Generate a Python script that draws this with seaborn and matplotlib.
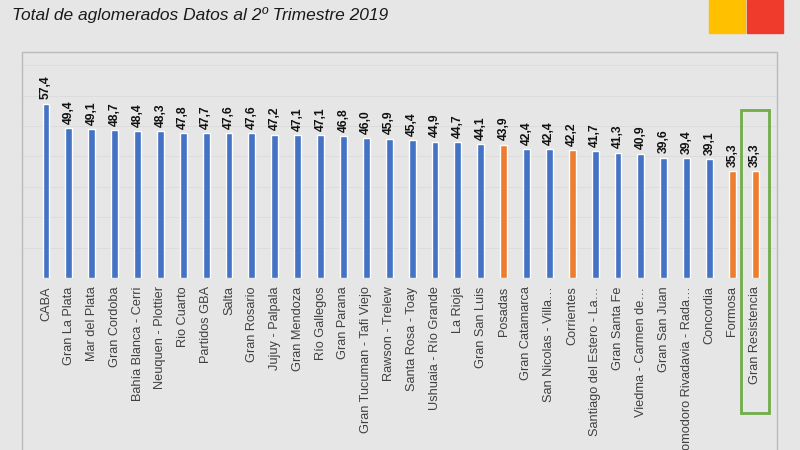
import matplotlib
matplotlib.use('Agg')
import matplotlib.pyplot as plt
from matplotlib.patches import Rectangle
import pandas as pd
import seaborn as sns

# Datos: tasa por aglomerado, 2do trimestre 2019
aglomerados = ['CABA', 'Gran La Plata', 'Mar del Plata', 'Gran Cordoba',
               'Bahía Blanca - Cerri', 'Neuquen - Plottier', 'Rio Cuarto',
               'Partidos GBA', 'Salta', 'Gran Rosario', 'Jujuy - Palpala',
               'Gran Mendoza', 'Río Gallegos', 'Gran Parana',
               'Gran Tucuman - Tafi Viejo', 'Rawson - Trelew',
               'Santa Rosa - Toay', 'Ushuaia - Río Grande', 'La Rioja',
               'Gran San Luis', 'Posadas', 'Gran Catamarca',
               'San Nicolas - Villa…', 'Corrientes',
               'Santiago del Estero - La…', 'Gran Santa Fe',
               'Viedma - Carmen de…', 'Gran San Juan',
               'Comodoro Rivadavia - Rada…', 'Concordia', 'Formosa',
               'Gran Resistencia']
valores = [57.4, 49.4, 49.1, 48.7, 48.4, 48.3, 47.8, 47.7, 47.6, 47.6, 47.2,
           47.1, 47.1, 46.8, 46.0, 45.9, 45.4, 44.9, 44.7, 44.1, 43.9, 42.4,
           42.4, 42.2, 41.7, 41.3, 40.9, 39.6, 39.4, 39.1, 35.3, 35.3]
nea = ['Posadas', 'Corrientes', 'Formosa', 'Gran Resistencia']
destacado = 'Gran Resistencia'

df = pd.DataFrame({'aglomerado': aglomerados, 'valor': valores})
df['grupo'] = ['NEA' if a in nea else 'Resto' for a in aglomerados]

bg = '#e6e6e6'
sns.set_style('white', rc={'axes.facecolor': bg, 'figure.facecolor': bg})
plt.rcParams['font.family'] = ['Liberation Sans', 'DejaVu Sans']

fig = plt.figure(figsize=(8, 4.5), dpi=100)
ax = fig.add_axes([0.0275, 0.382, 0.944, 0.502])

sns.barplot(data=df, x='aglomerado', y='valor', hue='grupo',
            palette={'Resto': '#4472c4', 'NEA': '#ed7d31'},
            dodge=False, width=0.3, saturation=1, legend=False, ax=ax)

for i, v in enumerate(valores):
    ax.text(i, v + 1.4, f'{v:.1f}'.replace('.', ','), rotation=90,
            ha='center', va='bottom', fontsize=8.7, fontweight='bold',
            color='#111111')

ax.set_xlim(-1.05, len(aglomerados) - 0.04)
ax.set_ylim(0, 74.3)
ax.set_yticks(range(10, 80, 10))
ax.set_yticklabels([])
ax.yaxis.grid(True, color='#dcdcdc', linewidth=0.7)
ax.set_axisbelow(True)
ax.tick_params(axis='x', length=0, pad=6, labelsize=9.2,
               labelcolor='#404040', labelrotation=90)
ax.tick_params(axis='y', length=0)
ax.set_xlabel('')
ax.set_ylabel('')
for s in ax.spines.values():
    s.set_visible(False)

# recuadro verde sobre Gran Resistencia
idx = aglomerados.index(destacado)
ax.add_patch(Rectangle((idx - 0.62, -44.5), 1.24,
                       valores[idx] + 20 + 44.5, fill=False,
                       edgecolor='#70ad47', linewidth=2, clip_on=False))

# marco del grafico
fig.add_artist(Rectangle((0.0275, -0.05), 0.944, 0.934, fill=False,
                         edgecolor='#b9b9b9', linewidth=1,
                         transform=fig.transFigure))

# cuadrados de color arriba a la derecha
fig.add_artist(Rectangle((709 / 800, 1 - 33 / 450), 36 / 800, 33 / 450,
                         color='#ffc000', transform=fig.transFigure))
fig.add_artist(Rectangle((747 / 800, 1 - 33 / 450), 36 / 800, 33 / 450,
                         color='#ee3b2b', transform=fig.transFigure))

fig.text(12 / 800, 1 - 15 / 450, 'Total de aglomerados Datos al 2º Trimestre 2019',
         ha='left', va='center', fontsize=12.5, style='italic', color='#1a1a1a',
         family=['Liberation Sans Narrow', 'Liberation Sans', 'DejaVu Sans'])

fig.savefig('out.png', dpi=100, facecolor=bg)
